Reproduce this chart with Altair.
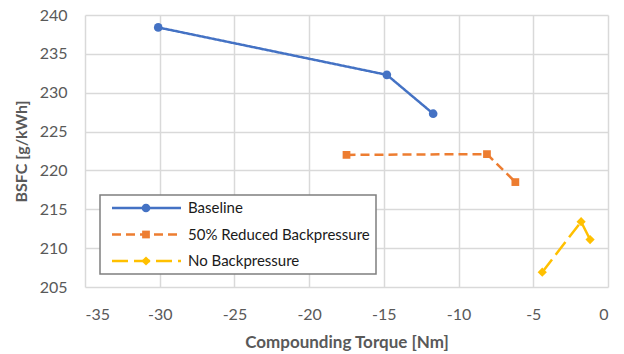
import altair as alt
import pandas as pd

baseline_x = [-30.1, -14.8, -11.7]
baseline_y = [238.4, 232.3, 227.3]
reduced_x = [-17.5, -8.1, -6.2]
reduced_y = [222.0, 222.1, 218.5]
noback_x = [-4.4, -1.8, -1.2]
noback_y = [206.9, 213.4, 211.1]

series_names = ["Baseline", "50% Reduced Backpressure", "No Backpressure"]
colors = ["#4472C4", "#ED7D31", "#FFC000"]
shapes = ["circle", "square", "diamond"]
sizes = [75, 60, 85]
dashes = [[1, 0], [9, 5], [16, 6]]
x_ticks = [-35, -30, -25, -20, -15, -10, -5, 0]
y_ticks = [205, 210, 215, 220, 225, 230, 235, 240]

FONT = "Lato"
xs = alt.X("x:Q", scale=alt.Scale(domain=[-35, 0], nice=False),
           axis=alt.Axis(values=x_ticks, title="Compounding Torque [Nm]",
                         labelExpr="'' + datum.value"))
ys = alt.Y("y:Q", scale=alt.Scale(domain=[205, 240], nice=False, zero=False),
           axis=alt.Axis(values=y_ticks, title="BSFC [g/kWh]"))

layers = []
for name, xv, yv, c, sh, sz, d in zip(series_names, [baseline_x, reduced_x, noback_x],
                                      [baseline_y, reduced_y, noback_y], colors, shapes, sizes, dashes):
    df = pd.DataFrame({"x": xv, "y": yv, "series": name})
    base = alt.Chart(df).encode(x=xs, y=ys)
    layers.append(base.mark_line(color=c, strokeWidth=2.5, strokeDash=d))
    layers.append(base.mark_point(color=c, shape=sh, size=sz, filled=True, opacity=1))

# legend box
dummy = pd.DataFrame({"k": [0]})
layers.append(alt.Chart(dummy).mark_rect(fill="white", stroke="#7f7f7f", strokeWidth=1.5).encode(
    x=alt.value(15), x2=alt.value(291), y=alt.value(180), y2=alt.value(259)))
leg_y = [193, 219.5, 246]
for name, c, sh, sz, d, ly in zip(series_names, colors, shapes, sizes, dashes, leg_y):
    layers.append(alt.Chart(dummy).mark_rule(color=c, strokeWidth=2.5, strokeDash=d).encode(
        x=alt.value(27), x2=alt.value(96), y=alt.value(ly)))
    layers.append(alt.Chart(dummy).mark_point(color=c, shape=sh, size=sz, filled=True, opacity=1).encode(
        x=alt.value(61), y=alt.value(ly)))
    layers.append(alt.Chart(dummy).mark_text(text=name, align="left", baseline="middle",
                                             font=FONT, fontSize=15, color="#1a1a1a").encode(
        x=alt.value(103), y=alt.value(ly)))

chart = alt.layer(*layers).properties(
    width=523, height=272,
    autosize=alt.AutoSizeParams(type="none"),
    padding={"left": 85, "top": 15, "right": 16, "bottom": 67},
).configure_view(stroke=None).configure_axis(
    grid=True, gridColor="#d9d9d9", gridWidth=1.5, domain=False, ticks=False,
    labelFont=FONT, labelFontSize=16, labelColor="#595959",
    titleFont=FONT, titleFontWeight="bold", titleColor="#595959",
).configure_axisX(labelPadding=19, titlePadding=12, titleFontSize=17).configure_axisY(
    labelPadding=18, titlePadding=10, titleFontSize=16)

chart.save("out.html", embed_options={"renderer": "svg", "actions": False})
